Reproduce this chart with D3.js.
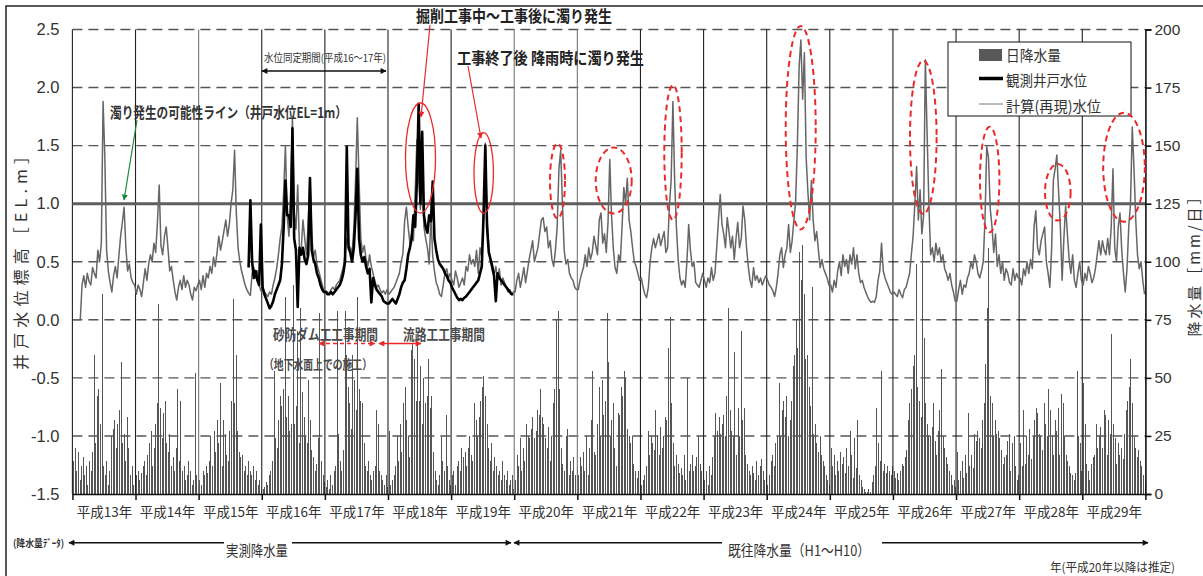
<!DOCTYPE html>
<html><head><meta charset="utf-8">
<script src="https://cdn.jsdelivr.net/npm/d3@7"></script>
<style>
body{margin:0;background:#fff;}
svg{display:block;font-family:"Noto Sans CJK JP","Noto Sans",sans-serif;}
</style></head><body>
<svg id="chart" width="1203" height="576"></svg>
<script>
// 平成13年～29年
const years = d3.range(13, 30);
const leftTicks = [-1.5, -1.0, -0.5, 0.0, 0.5, 1.0, 1.5, 2.0, 2.5];
const rightTicks = [0, 25, 50, 75, 100, 125, 150, 175, 200];

// 計算(再現)水位 [EL.m], 36 samples per year
const calcLevel = [
  [0,0,0,0,0,0.30,0.38,0.28,0.40,0.33,0.30,0.45,0.40,0.36,0.60,0.50,0.66,1.88,1.40,0.60,0.42,0.32,0.24,0.38,0.46,0.36,0.55,0.72,0.84,0.97,0.62,0.42,0.48,0.36,0.32,0.30],
  [0.22,0.30,0.26,0.20,0.32,0.44,0.34,0.48,0.56,0.50,0.66,0.58,0.84,1.16,0.64,0.56,0.72,0.80,0.62,0.42,0.46,0.34,0.24,0.17,0.28,0.34,0.26,0.38,0.28,0.34,0.30,0.22,0.17,0.28,0.25,0.30],
  [0.34,0.26,0.38,0.28,0.40,0.36,0.46,0.40,0.54,0.46,0.58,0.72,0.60,0.68,0.77,0.86,0.72,0.82,1.00,1.12,1.46,0.92,0.62,0.50,0.42,0.36,0.30,0.26,0.23,0.21,0.40,0.45,0.36,0.42,0.30,0.25],
  [0.28,0.24,0.22,0.20,0.24,0.22,0.30,0.36,0.44,0.56,0.70,0.80,1.10,1.50,0.90,0.72,1.10,1.75,0.92,0.78,1.16,0.62,0.60,0.86,0.70,0.56,0.84,1.22,0.74,0.54,0.60,0.48,0.42,0.36,0.30,0.24],
  [0.25,0.24,0.22,0.26,0.28,0.26,0.30,0.32,0.34,0.40,0.45,0.56,0.70,0.64,0.62,0.58,0.78,1.20,1.74,1.20,0.70,0.58,0.64,0.52,0.46,0.56,0.46,0.40,0.34,0.28,0.30,0.26,0.23,0.25,0.22,0.26],
  [0.22,0.24,0.26,0.28,0.32,0.36,0.40,0.50,0.57,0.85,0.97,0.80,0.66,0.74,0.68,1.10,1.55,1.20,0.95,1.25,0.80,0.70,0.62,0.48,0.90,0.55,0.42,0.32,0.28,0.22,0.20,0.30,0.40,0.44,0.36,0.40],
  [0.34,0.30,0.42,0.36,0.28,0.32,0.36,0.30,0.46,0.42,0.56,0.48,0.52,0.46,0.60,0.40,0.62,0.54,0.90,1.52,0.88,0.62,0.50,0.42,0.38,0.46,0.34,0.44,0.30,0.36,0.32,0.28,0.24,0.26,0.22,0.24],
  [0.24,0.34,0.40,0.28,0.36,0.45,0.32,0.42,0.52,0.60,0.68,0.50,0.56,0.62,0.74,0.86,0.88,0.76,0.80,0.62,0.68,0.52,0.46,0.60,0.80,1.30,1.46,1.00,0.60,0.48,0.52,0.40,0.36,0.34,0.28,0.26],
  [0.26,0.34,0.40,0.45,0.56,0.46,0.62,0.52,0.58,0.72,0.64,0.56,0.86,0.92,0.66,0.74,0.58,0.84,1.38,0.90,0.62,0.45,0.40,0.56,0.50,0.80,1.14,1.00,1.22,0.86,0.76,0.62,0.50,0.46,0.40,0.34],
  [0.36,0.28,0.22,0.19,0.28,0.50,0.62,0.70,0.62,0.68,0.74,0.64,0.70,0.76,0.58,0.62,0.98,1.20,1.88,1.20,0.80,0.52,0.36,0.30,0.34,0.28,0.50,0.82,0.60,0.46,0.50,0.32,0.30,0.28,0.34,0.40],
  [0.34,0.28,0.36,0.32,0.45,0.34,0.40,0.62,0.86,1.08,0.82,0.74,0.62,0.88,0.76,0.62,0.72,0.52,0.70,0.84,0.62,0.70,0.98,0.86,0.62,0.46,0.34,0.28,0.45,0.34,0.38,0.32,0.36,0.30,0.34,0.38],
  [0.34,0.30,0.28,0.25,0.20,0.28,0.40,0.56,0.62,0.45,0.56,0.62,0.82,0.58,0.68,0.86,1.02,1.50,2.18,2.41,1.90,2.30,1.40,1.10,0.86,1.20,0.86,0.68,0.76,0.60,0.45,0.52,0.44,0.40,0.36,0.30],
  [0.30,0.24,0.34,0.28,0.42,0.50,0.38,0.56,0.46,0.52,0.40,0.56,0.48,0.62,0.44,0.56,0.40,0.32,0.34,0.28,0.24,0.20,0.17,0.15,0.16,0.15,0.20,0.34,0.42,0.66,0.42,0.36,0.32,0.28,0.24,0.22],
  [0.24,0.22,0.20,0.26,0.22,0.19,0.26,0.28,0.34,0.40,0.56,0.72,1.00,1.32,0.86,1.12,0.74,0.90,2.24,1.60,1.00,0.56,0.62,0.50,0.66,0.56,0.62,0.50,0.56,0.44,0.40,0.34,0.40,0.30,0.24,0.16],
  [0.16,0.26,0.34,0.22,0.30,0.28,0.36,0.40,0.50,0.44,0.56,0.50,0.40,0.36,0.42,0.50,0.86,1.49,1.40,0.96,0.80,0.58,0.74,0.46,0.56,0.40,0.50,0.34,0.44,0.40,0.32,0.30,0.44,0.34,0.40,0.36],
  [0.36,0.30,0.44,0.38,0.50,0.40,0.52,0.44,0.80,0.94,0.62,0.56,0.68,0.74,0.80,0.50,0.40,0.28,0.60,1.20,1.30,1.42,1.10,0.80,0.34,0.70,0.98,0.74,0.52,0.40,0.56,0.34,0.28,0.40,0.50,0.34],
  [0.30,0.40,0.34,0.46,0.40,0.32,0.36,0.44,0.56,0.68,0.56,0.68,0.60,0.56,0.70,0.56,0.80,1.30,0.62,0.50,0.80,0.92,0.60,0.40,0.24,0.44,0.80,1.00,1.66,1.30,0.86,0.56,0.44,0.50,0.34,0.22]
];

// 観測井戸水位 [EL.m], 平成15年(sample 28～)～平成19年
const obsYears = [15, 16, 17, 18, 19];
const obsFirstSample = 28;
const obsLevel = [
  [0.45,1.03,0.50,0.36,0.42,0.34,0.30,0.82],
  [0.28,0.22,0.18,0.14,0.10,0.12,0.16,0.22,0.26,0.30,0.34,0.48,0.80,1.20,0.90,0.90,0.80,1.65,0.70,0.60,0.11,0.62,0.56,0.62,0.52,0.48,0.56,1.22,0.60,0.52,0.48,0.40,0.36,0.30,0.26,0.24],
  [0.24,0.22,0.22,0.24,0.22,0.24,0.26,0.28,0.30,0.34,0.40,0.50,1.49,0.62,0.58,0.50,0.62,0.90,1.30,0.70,0.56,0.50,0.54,0.46,0.40,0.44,0.15,0.36,0.30,0.26,0.24,0.22,0.20,0.16,0.15,0.14],
  [0.14,0.16,0.18,0.16,0.14,0.18,0.22,0.28,0.32,0.34,0.44,0.56,0.62,0.70,0.90,0.80,1.20,1.86,1.00,1.62,0.90,0.80,0.75,0.90,0.85,1.19,0.70,0.60,0.52,0.48,0.46,0.44,0.40,0.38,0.34,0.32],
  [0.28,0.25,0.22,0.19,0.17,0.18,0.17,0.19,0.20,0.22,0.24,0.26,0.28,0.30,0.32,0.34,0.40,0.46,0.90,1.50,0.80,0.58,0.52,0.46,0.38,0.16,0.40,0.36,0.34,0.32,0.30,0.28,0.26,0.24,0.22,0.22]
];

// 日降水量 [mm/日], 40 samples per year
const rainfall = [
  [14,20,10,18,6,12,16,8,12,4,14,10,18,60,22,42,45,30,86,12,8,14,4,10,25,28,32,20,30,36,57,22,26,14,33,20,8,12,4,2],
  [8,10,6,9,12,14,8,17,22,27,12,20,30,39,82,37,24,35,40,22,18,26,12,16,10,20,45,14,40,10,12,6,8,14,10,4,6,52,8,4],
  [6,4,10,8,12,9,14,25,12,27,18,32,22,48,12,32,26,17,14,27,40,84,39,60,27,18,16,17,10,12,8,14,10,8,12,6,10,4,6,2],
  [2,3,5,4,8,10,14,53,24,20,32,42,38,45,85,33,42,27,30,90,30,38,70,22,80,44,33,25,22,49,32,19,16,10,13,24,78,14,8,5],
  [3,6,2,8,4,10,12,79,26,14,10,19,79,60,46,39,28,60,49,36,85,45,40,39,22,12,10,14,8,6,10,12,36,30,10,8,6,4,8,3],
  [27,4,6,8,12,25,14,30,18,39,46,32,25,16,62,65,58,40,65,40,55,30,50,39,42,58,37,42,18,10,6,4,8,25,14,10,34,12,6,4],
  [8,10,4,12,14,10,20,16,18,12,20,25,17,14,39,32,25,33,40,46,51,42,30,20,14,22,10,16,12,8,10,6,14,8,6,10,4,6,8,2],
  [6,17,12,24,10,20,14,30,25,24,28,33,24,27,36,34,45,33,30,24,20,29,14,25,39,45,75,79,45,20,13,10,25,28,8,14,10,16,8,12],
  [8,16,12,18,10,25,8,20,32,53,18,17,30,46,25,49,34,40,78,57,25,32,39,20,12,35,34,46,42,53,50,28,25,22,25,13,10,7,10,4],
  [4,6,8,12,27,17,25,22,19,36,25,17,29,20,25,33,32,63,76,39,22,12,17,13,9,11,8,17,6,50,10,13,17,10,12,16,25,13,10,6],
  [6,10,4,12,8,16,25,35,27,33,26,30,34,25,42,80,36,27,25,61,17,37,25,70,32,37,17,13,10,8,12,9,6,14,8,12,15,10,6,8],
  [4,8,14,17,12,22,25,48,25,36,40,33,42,25,32,40,55,60,75,63,104,92,107,86,58,60,46,38,89,26,30,22,18,25,17,14,12,8,6,4],
  [20,12,17,8,14,10,18,13,16,9,20,12,27,17,7,24,11,32,8,6,3,2,1,1,2,1,5,8,12,37,22,14,53,10,13,9,12,10,8,12],
  [10,7,9,6,10,13,12,16,19,32,39,45,55,60,99,46,40,33,110,67,39,30,25,25,29,39,23,17,27,36,54,25,20,16,13,10,8,4,6,3],
  [18,6,10,14,7,17,9,35,12,17,11,26,23,27,24,20,32,39,56,80,106,42,39,25,32,26,27,24,19,13,16,17,23,26,10,22,25,12,6,8],
  [22,12,36,13,25,17,28,15,25,32,37,35,26,25,19,39,30,25,45,36,25,17,32,27,37,17,43,39,25,17,14,12,9,8,6,9,53,25,22,10],
  [48,30,13,10,6,13,16,17,30,20,25,29,20,36,34,17,32,26,69,30,24,13,22,17,20,15,26,36,40,46,58,39,25,20,16,19,14,12,8,4]
];

// dashed ellipses around the turbid events after 平成20年
const floodMarks = [
  {cx: 557.5, cy: 181, rx: 7.5, ry: 37.5}, {cx: 613.7, cy: 180.5, rx: 18, ry: 33},
  {cx: 673, cy: 152.5, rx: 8.7, ry: 67.5}, {cx: 800.7, cy: 127.7, rx: 15, ry: 101.7},
  {cx: 923.3, cy: 137.3, rx: 13.3, ry: 76.7}, {cx: 989.7, cy: 179.5, rx: 9.7, ry: 52.8},
  {cx: 1057.8, cy: 192.3, rx: 12.8, ry: 28.3}, {cx: 1124, cy: 167.2, rx: 20.8, ry: 54.5}
];

const plot = {left: 72.4, right: 1145.4, top: 29.5, bottom: 494};
const x = d3.scaleLinear().domain([13, 30]).range([plot.left, plot.right]);
const yL = d3.scaleLinear().domain([-1.5, 2.5]).range([plot.bottom, plot.top]);
const yR = d3.scaleLinear().domain([0, 200]).range([plot.bottom, plot.top]);

const svg = d3.select("#chart");
const RED = "#ea2a2a";

// arrow heads
const defs = svg.append("defs");
[["arrBlack", "#111"], ["arrRed", RED], ["arrGreen", "#15893a"]].forEach(([id, c]) => {
  defs.append("marker").attr("id", id).attr("viewBox", "0 0 10 10")
    .attr("refX", 9).attr("refY", 5).attr("markerWidth", 7).attr("markerHeight", 6)
    .attr("markerUnits", "userSpaceOnUse").attr("orient", "auto-start-reverse")
    .append("path").attr("d", "M0,0L10,5L0,10z").attr("fill", c);
});

// outer frame (top + left)
svg.append("path").attr("d", "M6,576V6H1203").attr("fill", "none")
  .attr("stroke", "#222").attr("stroke-width", 1.5);

// horizontal dashed grid
svg.append("g").selectAll("line")
  .data(leftTicks.filter(d => d !== -1.5 && d !== 1.0))
  .join("line")
  .attr("x1", plot.left).attr("x2", plot.right)
  .attr("y1", d => yL(d)).attr("y2", d => yL(d))
  .attr("stroke", "#555").attr("stroke-width", 1.4).attr("stroke-dasharray", "10,6");

// rainfall bars
const rainPts = [];
rainfall.forEach((row, k) => row.forEach((v, i) => rainPts.push({t: years[k] + (i + 0.5) / row.length, v})));
svg.append("g").attr("shape-rendering", "crispEdges")
  .selectAll("rect").data(rainPts).join("rect")
  .attr("x", d => Math.round(x(d.t))).attr("width", 1)
  .attr("y", d => yR(d.v)).attr("height", d => yR(0) - yR(d.v))
  .attr("fill", "#555");

// year separators
svg.append("g").selectAll("line").data(d3.range(13, 30))
  .join("line")
  .attr("x1", d => x(d)).attr("x2", d => x(d))
  .attr("y1", plot.top).attr("y2", plot.bottom)
  .attr("stroke", d => (d === 15 || d === 20 || d === 21) ? "#777" : "#222").attr("stroke-width", 1.1);

// turbidity line EL=1m
svg.append("line").attr("x1", plot.left).attr("x2", plot.right)
  .attr("y1", yL(1)).attr("y2", yL(1)).attr("stroke", "#5e5e5e").attr("stroke-width", 3);

// water level lines
const line = d3.line().defined(d => d.v != null).x(d => x(d.t)).y(d => yL(d.v));
const calcPts = [];
calcLevel.forEach((row, k) => row.forEach((v, i) => calcPts.push({t: years[k] + (i + 0.5) / row.length, v})));
const obsPts = [];
obsLevel.forEach((row, k) => {
  const off = k === 0 ? obsFirstSample : 0;
  row.forEach((v, i) => obsPts.push({t: obsYears[k] + (i + off + 0.5) / 36, v}));
});
svg.append("path").datum(calcPts).attr("d", line)
  .attr("fill", "none").attr("stroke", "#666").attr("stroke-width", 1.5).attr("stroke-linejoin", "round");
svg.append("path").datum(obsPts).attr("d", line)
  .attr("fill", "none").attr("stroke", "#000").attr("stroke-width", 2.6).attr("stroke-linejoin", "round");

// axes
const xAxis = svg.append("g").attr("transform", `translate(0,${plot.bottom})`)
  .call(d3.axisBottom(x).tickValues(d3.range(13, 31)).tickFormat("").tickSize(6).tickSizeOuter(0));
xAxis.selectAll("line,path").attr("stroke", "#111").attr("stroke-width", 1.5);
const xLab = svg.append("g").attr("transform", `translate(0,${plot.bottom})`)
  .call(d3.axisBottom(x).tickValues(years.map(d => d + 0.5)).tickSize(0).tickPadding(13)
    .tickFormat(d => `平成${Math.floor(d)}年`));
xLab.select(".domain").remove();
xLab.selectAll("text").attr("font-family", '"Noto Sans CJK JP"').attr("font-size", 13.5).attr("fill", "#333");

const yAxisL = svg.append("g").attr("transform", `translate(${plot.left},0)`)
  .call(d3.axisLeft(yL).tickValues(leftTicks).tickSize(0).tickPadding(13).tickFormat(d => d.toFixed(1)));
yAxisL.select(".domain").remove();
yAxisL.selectAll("text").attr("font-family", '"Liberation Sans",Arial,sans-serif').attr("font-size", 16.5).attr("fill", "#333");

const yAxisR = svg.append("g").attr("transform", `translate(${plot.right},0)`)
  .call(d3.axisRight(yR).tickValues(rightTicks).tickSize(6).tickPadding(3));
yAxisR.selectAll("line,path").attr("stroke", "#111").attr("stroke-width", 1.6);
yAxisR.selectAll("text").attr("font-family", '"Liberation Sans",Arial,sans-serif').attr("font-size", 15.5).attr("fill", "#333");

// axis titles
svg.append("text").attr("transform", "translate(20,259) rotate(-90)")
  .attr("text-anchor", "middle").attr("dominant-baseline", "central")
  .attr("font-size", 16).attr("fill", "#333")
  .attr("textLength", 222).attr("lengthAdjust", "spacing")
  .text("井戸水位標高［EL.m］");
svg.append("text").attr("transform", "translate(1193,263) rotate(-90)")
  .attr("text-anchor", "middle").attr("dominant-baseline", "central")
  .attr("font-size", 15).attr("fill", "#333")
  .attr("textLength", 147).attr("lengthAdjust", "spacing")
  .text("降水量［mm/日］");

// legend
const lg = svg.append("g");
lg.append("rect").attr("x", 948).attr("y", 42).attr("width", 183).attr("height", 74)
  .attr("fill", "#fff").attr("stroke", "#111").attr("stroke-width", 1);
lg.append("rect").attr("x", 979).attr("y", 49).attr("width", 23).attr("height", 12).attr("fill", "#595959");
lg.append("line").attr("x1", 979).attr("x2", 1003).attr("y1", 78.5).attr("y2", 78.5).attr("stroke", "#000").attr("stroke-width", 3.5);
lg.append("line").attr("x1", 979).attr("x2", 1003).attr("y1", 104).attr("y2", 104).attr("stroke", "#777").attr("stroke-width", 1);
[["日降水量", 61, 55], ["観測井戸水位", 86, 81], ["計算(再現)水位", 112, 95]].forEach(([t, yy, len]) => {
  lg.append("text").attr("x", 1006).attr("y", yy).attr("font-size", 15).attr("fill", "#333")
    .attr("textLength", len).attr("lengthAdjust", "spacingAndGlyphs").text(t);
});

// annotations
const ann = svg.append("g");
function label(t, xx, yy, size, opts = {}) {
  const el = ann.append("text").attr("x", xx).attr("y", yy).attr("font-size", size)
    .attr("fill", opts.fill || "#222").attr("font-weight", opts.bold ? 700 : 400)
    .attr("text-anchor", opts.anchor || "start").text(t);
  if (opts.len) el.attr("textLength", opts.len).attr("lengthAdjust", "spacingAndGlyphs");
  return el;
}
function arrow(x1, y1, x2, y2, marker, color, w, both, dash) {
  const l = ann.append("line").attr("x1", x1).attr("y1", y1).attr("x2", x2).attr("y2", y2)
    .attr("stroke", color).attr("stroke-width", w).attr("marker-end", `url(#${marker})`);
  if (both) l.attr("marker-start", `url(#${marker})`);
  if (dash) l.attr("stroke-dasharray", dash);
}

label("水位同定期間(平成16〜17年)", 264, 62, 11, {len: 122, fill: "#333"});
arrow(262, 71, 386, 71, "arrBlack", "#111", 1.3, true);

label("濁り発生の可能性ライン（井戸水位EL=1m）", 110, 118, 14.5, {bold: true, len: 237, fill: "#333"});
arrow(137, 120, 124, 200, "arrGreen", "#15893a", 1.2);

label("掘削工事中～工事後に濁り発生", 416, 22, 16, {bold: true, len: 196});
arrow(430, 25, 421, 117, "arrRed", RED, 1.2);
label("工事終了後 降雨時に濁り発生", 457, 64, 16, {bold: true, len: 187});
arrow(468, 66, 481, 138, "arrRed", RED, 1.2);

ann.append("ellipse").attr("cx", 420.5).attr("cy", 158).attr("rx", 15).attr("ry", 55)
  .attr("fill", "none").attr("stroke", RED).attr("stroke-width", 1.3);
ann.append("ellipse").attr("cx", 483.7).attr("cy", 173).attr("rx", 9.7).attr("ry", 40.3)
  .attr("fill", "none").attr("stroke", RED).attr("stroke-width", 1.3);
ann.selectAll("ellipse.flood").data(floodMarks).join("ellipse").attr("class", "flood")
  .attr("cx", d => d.cx).attr("cy", d => d.cy).attr("rx", d => d.rx).attr("ry", d => d.ry)
  .attr("fill", "none").attr("stroke", RED).attr("stroke-width", 2).attr("stroke-dasharray", "6,4");

label("砂防ダム工工事期間", 273, 340, 14.5, {bold: true, len: 105, fill: "#4a4a4a"});
arrow(319, 343.5, 375, 343.5, "arrRed", RED, 1.6, true, "4,3");
arrow(379, 343.5, 421, 343.5, "arrRed", RED, 1.6, true);
label("流路工工事期間", 403, 340, 14.5, {bold: true, len: 82, fill: "#4a4a4a"});
label("（地下水面上での施工）", 264, 369, 13, {bold: true, len: 108, fill: "#4a4a4a"});

// bottom notes
label("(降水量ﾃﾞｰﾀ)", 13, 547, 10, {bold: true, len: 51, fill: "#333"});
arrow(224, 542.7, 69, 542.7, "arrBlack", "#111", 1.5);
label("実測降水量", 257, 556, 15, {anchor: "middle", len: 62, fill: "#333"});
arrow(292, 542.7, 511, 542.7, "arrBlack", "#111", 1.5);
arrow(722, 542.7, 514, 542.7, "arrBlack", "#111", 1.5);
label("既往降水量（H1～H10）", 728, 556, 15, {len: 142, fill: "#333"});
arrow(882, 542.7, 1148, 542.7, "arrBlack", "#111", 1.5);
label("年(平成20年以降は推定)", 1050, 572, 12, {len: 125, fill: "#333"});
</script>
</body></html>
